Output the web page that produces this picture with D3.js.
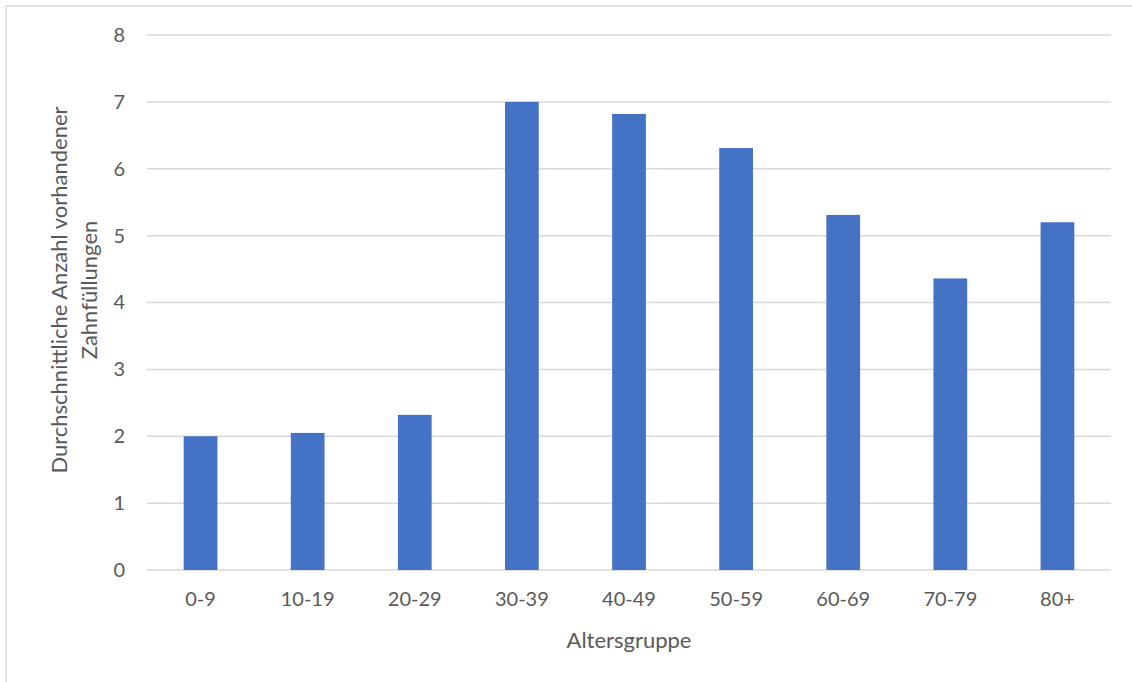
<!DOCTYPE html>
<html>
<head>
<meta charset="utf-8">
<script src="https://cdn.jsdelivr.net/npm/d3@7"></script>
<style>
  html, body { margin: 0; padding: 0; background: #fff; }
  svg { display: block; font-family: Lato, "Open Sans", sans-serif; }
</style>
</head>
<body>
<svg id="chart" width="1132" height="682"></svg>
<script>
// Age groups and the average number of existing dental fillings per group
const categories = ["0-9", "10-19", "20-29", "30-39", "40-49", "50-59", "60-69", "70-79", "80+"];
const values = [2.0, 2.05, 2.32, 7.0, 6.82, 6.31, 5.31, 4.36, 5.2];
const yTicks = [0, 1, 2, 3, 4, 5, 6, 7, 8];
const xTitle = "Altersgruppe";
const yTitleLines = ["Durchschnittliche Anzahl vorhandener", "Zahnfüllungen"];

const svg = d3.select("#chart");
const W = 1132, H = 682;
const margin = { top: 35, right: 21, bottom: 112, left: 147 };
const innerW = W - margin.left - margin.right;
const innerH = H - margin.top - margin.bottom;

// chart frame
svg.append("rect")
  .attr("x", 6).attr("y", 6)
  .attr("width", W).attr("height", H)
  .attr("fill", "#fff")
  .attr("stroke", "#d9d9d9").attr("stroke-width", 1.5);

const g = svg.append("g").attr("transform", `translate(${margin.left},${margin.top})`);

const x = d3.scaleBand().domain(categories).range([0, innerW]).paddingInner(0.685).paddingOuter(0.3425);
const y = d3.scaleLinear().domain([0, 8]).range([innerH, 0]);

// horizontal gridlines
g.append("g")
  .selectAll("line")
  .data(yTicks)
  .join("line")
  .attr("x1", 0).attr("x2", innerW)
  .attr("y1", d => y(d)).attr("y2", d => y(d))
  .attr("stroke", "#d9d9d9").attr("stroke-width", 1.5);

// bars
g.append("g")
  .selectAll("rect")
  .data(categories)
  .join("rect")
  .attr("x", d => x(d))
  .attr("width", x.bandwidth())
  .attr("y", (d, i) => y(values[i]))
  .attr("height", (d, i) => y(0) - y(values[i]))
  .attr("fill", "#4472c4");

// y axis labels
const yAxis = g.append("g")
  .attr("transform", "translate(-22,0)")
  .call(d3.axisLeft(y).tickValues(yTicks).tickSize(0).tickPadding(0));
yAxis.select(".domain").remove();
yAxis.selectAll("text")
  .attr("fill", "#595959")
  .style("font-size", "20px")
  .style("font-family", "Lato, 'Open Sans', sans-serif");

// x axis labels
const xAxis = g.append("g")
  .attr("transform", `translate(0,${innerH})`)
  .call(d3.axisBottom(x).tickSize(0).tickPadding(22));
xAxis.select(".domain").remove();
xAxis.selectAll("text")
  .attr("fill", "#595959")
  .style("font-size", "20px")
  .style("font-family", "Lato, 'Open Sans', sans-serif");

// axis titles
svg.append("text")
  .attr("x", margin.left + innerW / 2)
  .attr("y", 648)
  .attr("text-anchor", "middle")
  .attr("fill", "#595959")
  .style("font-size", "22px")
  .text(xTitle);

const yt = svg.append("text")
  .attr("transform", "translate(0,290) rotate(-90)")
  .attr("text-anchor", "middle")
  .attr("fill", "#595959")
  .style("font-size", "22px");
yt.selectAll("tspan")
  .data(yTitleLines)
  .join("tspan")
  .attr("x", 0)
  .attr("y", (d, i) => 67 + i * 30)
  .text(d => d);
</script>
</body>
</html>
